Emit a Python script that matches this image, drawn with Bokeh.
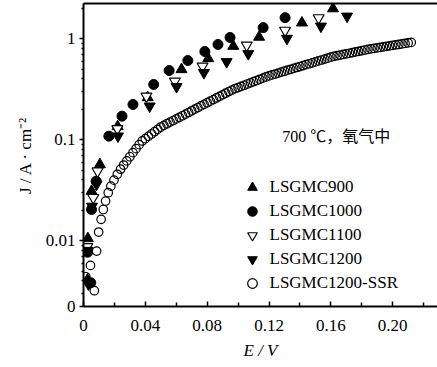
from bokeh.plotting import figure
from bokeh.models import Range1d, FixedTicker, LinearAxis, Legend, LegendItem, Label, Title
from bokeh.embed import file_html
from bokeh.resources import INLINE

# ---- data ----
e_900 = [0.0026, 0.0028, 0.0052, 0.0106, 0.0221, 0.0415, 0.0634, 0.0807, 0.0969, 0.1136, 0.1413, 0.1614]
j_900 = [0.0041, 0.01054, 0.0310, 0.0569, 0.1354, 0.262, 0.497, 0.638, 0.845, 1.04, 1.44, 1.99]

e_1000 = [0.0047, 0.0026, 0.0052, 0.0082, 0.0164, 0.0249, 0.0320, 0.0454, 0.0554, 0.0675, 0.0785, 0.0870, 0.0948, 0.1162, 0.1304]
j_1000 = [0.00384, 0.00769, 0.0204, 0.0389, 0.1086, 0.1713, 0.2237, 0.353, 0.485, 0.609, 0.748, 0.878, 1.03, 1.29, 1.62]

e_1100 = [0.0024, 0.0063, 0.0091, 0.0219, 0.0407, 0.0591, 0.0770, 0.1056, 0.1304, 0.1521]
j_1100 = [0.0087, 0.0267, 0.0489, 0.1285, 0.270, 0.380, 0.535, 0.864, 1.21, 1.61]

e_1200 = [0.0032, 0.0026, 0.0055, 0.0084, 0.0223, 0.0428, 0.0602, 0.0779, 0.0926, 0.1066, 0.1316, 0.1536, 0.1705]
j_1200 = [0.00371, 0.0080, 0.0219, 0.0361, 0.1086, 0.215, 0.335, 0.461, 0.592, 0.710, 1.007, 1.33, 1.67]

e_ssr = [0.0015, 0.0045, 0.0070, 0.0085, 0.0098, 0.0114, 0.0128, 0.0143, 0.0160, 0.0177, 0.0197, 0.0219,
         0.024, 0.026, 0.028, 0.030, 0.032, 0.034, 0.036, 0.038, 0.040, 0.042, 0.044, 0.046, 0.048, 0.050,
         0.052, 0.054, 0.056, 0.058, 0.060, 0.062, 0.064, 0.066, 0.068, 0.070, 0.072, 0.074, 0.076, 0.078,
         0.080, 0.082, 0.084, 0.086, 0.088, 0.090, 0.092, 0.094, 0.096, 0.098, 0.100, 0.102, 0.104, 0.106,
         0.108, 0.110, 0.112, 0.114, 0.116, 0.118, 0.120, 0.122, 0.124, 0.126, 0.128, 0.130, 0.132, 0.134,
         0.136, 0.138, 0.140, 0.142, 0.144, 0.146, 0.148, 0.150, 0.152, 0.154, 0.156, 0.158, 0.160, 0.162,
         0.164, 0.166, 0.168, 0.170, 0.172, 0.174, 0.176, 0.178, 0.180, 0.182, 0.184, 0.186, 0.188, 0.190,
         0.192, 0.194, 0.196, 0.198, 0.200, 0.202, 0.204, 0.206, 0.208, 0.210, 0.212]
j_ssr = [0.0044, 0.0057, 0.0032, 0.0079, 0.0122, 0.0163, 0.0204, 0.0247, 0.0299, 0.0347, 0.0398, 0.0455,
         0.0511, 0.0562, 0.0618, 0.0679, 0.0745, 0.0817, 0.0895, 0.0973, 0.1026, 0.1081, 0.1140, 0.1202, 0.1268, 0.1337,
         0.1390, 0.1442, 0.1496, 0.1552, 0.1610, 0.1667, 0.1730, 0.1795, 0.1862, 0.1936, 0.2009, 0.2084, 0.2165, 0.2244,
         0.2328, 0.2410, 0.2500, 0.2594, 0.2692, 0.2786, 0.2891, 0.2999, 0.3105, 0.3206, 0.3289, 0.3381, 0.3467, 0.3565,
         0.3664, 0.3758, 0.3864, 0.3972, 0.4074, 0.4188, 0.4291, 0.4385, 0.4477, 0.4581, 0.4677, 0.4775, 0.4887, 0.4989,
         0.5093, 0.5200, 0.5309, 0.5424, 0.5540, 0.5662, 0.5781, 0.5902, 0.6039, 0.6166, 0.6295, 0.6427, 0.6577, 0.6701,
         0.6800, 0.6902, 0.6998, 0.7096, 0.7194, 0.7311, 0.7413, 0.7516, 0.7621, 0.7745, 0.7852, 0.7943, 0.8035, 0.8128,
         0.8222, 0.8318, 0.8414, 0.8511, 0.8610, 0.8710, 0.8790, 0.8892, 0.8995, 0.9099, 0.9204]

x_ticks = [0, 0.04, 0.08, 0.12, 0.16, 0.20]
x_tick_labels = ["0", "0.04", "0.08", "0.12", "0.16", "0.20"]
x_minor = [0.02, 0.06, 0.10, 0.14, 0.18, 0.22]
y_ticks = [0.002233, 0.01, 0.1, 1]
y_tick_labels = ["0", "0.01", "0.1", "1"]
y_minor = [0.003, 0.004, 0.005, 0.006, 0.007, 0.008, 0.009,
           0.02, 0.03, 0.04, 0.05, 0.06, 0.07, 0.08, 0.09,
           0.2, 0.3, 0.4, 0.5, 0.6, 0.7, 0.8, 0.9, 2]

FONT = "Liberation Serif"

p = figure(width=437, height=367, x_range=Range1d(0, 0.229), y_range=Range1d(0.002233, 2.236),
           y_axis_type="log", output_backend="svg", toolbar_location=None,
           min_border_left=83, min_border_right=0, min_border_top=3, min_border_bottom=61)
p.xgrid.visible = False
p.ygrid.visible = False
p.outline_line_color = None

# axes
xa = p.xaxis[0]
xa.ticker = FixedTicker(ticks=x_ticks, minor_ticks=x_minor)
xa.major_label_overrides = dict(zip(x_ticks, x_tick_labels))
xa.major_tick_in = 5
xa.major_tick_out = 0
xa.minor_tick_in = 4
xa.minor_tick_out = 0
xa.major_label_standoff = 13
ya = p.yaxis[0]
ya.ticker = FixedTicker(ticks=y_ticks, minor_ticks=y_minor)
ya.major_label_overrides = dict(zip(y_ticks, y_tick_labels))
ya.major_tick_in = 0
ya.major_tick_out = 4
ya.minor_tick_in = 0
ya.minor_tick_out = 2
ya.major_label_standoff = 4
for ax in (xa, ya):
    ax.axis_line_width = 2
    ax.major_tick_line_width = 1.5
    ax.minor_tick_line_width = 1.5
    ax.major_label_text_font = FONT
    ax.major_label_text_font_size = "17px"
    ax.major_label_text_color = "black"

top = LinearAxis(ticker=FixedTicker(ticks=[]), major_tick_in=0, major_tick_out=0,
                 minor_tick_in=0, minor_tick_out=0, axis_line_width=2, major_label_standoff=0)
p.add_layout(top, "above")

# data
r_ssr = p.scatter(e_ssr, j_ssr, marker="circle", size=8.5, fill_color=None, line_color="black", line_width=1.2)
r900 = p.scatter(e_900, j_900, marker="triangle", size=11, fill_color="black", line_color="black")
r1000 = p.scatter(e_1000, j_1000, marker="circle", size=10, fill_color="black", line_color="black")
r1100 = p.scatter(e_1100, j_1100, marker="inverted_triangle", size=11, fill_color="white", line_color="black", line_width=1.2)
r1200 = p.scatter(e_1200, j_1200, marker="inverted_triangle", size=11, fill_color="black", line_color="black")

legend = Legend(items=[
    LegendItem(label="LSGMC900", renderers=[r900]),
    LegendItem(label="LSGMC1000", renderers=[r1000]),
    LegendItem(label="LSGMC1100", renderers=[r1100]),
    LegendItem(label="LSGMC1200", renderers=[r1200]),
    LegendItem(label="LSGMC1200-SSR", renderers=[r_ssr]),
], location=(156.5, 11.5))
legend.glyph_width = 24
legend.glyph_height = 24
legend.spacing = 0
legend.label_height = 20
legend.label_standoff = 6
legend.padding = 0
legend.margin = 0
legend.border_line_color = None
legend.background_fill_alpha = 0
legend.label_text_font = FONT
legend.label_text_font_size = "17px"
legend.label_text_color = "black"
p.add_layout(legend)

p.add_layout(Label(x=0.1286, y=0.108, text="700 ℃，氧气中", text_font=FONT + ", Noto Sans CJK SC",
                   text_font_size="16px", text_baseline="middle", text_align="left", text_color="black"))

p.add_layout(Title(text="J / A · cm⁻²", align="center", offset=-11, standoff=15,
                   text_font=FONT, text_font_size="17px", text_font_style="normal",
                   text_color="black"), "left")
p.add_layout(Title(text="E / V", align="center", offset=8, standoff=11,
                   text_font=FONT, text_font_size="17px", text_font_style="italic",
                   text_color="black"), "below")

open("out.html", "w").write(file_html(p, INLINE))
